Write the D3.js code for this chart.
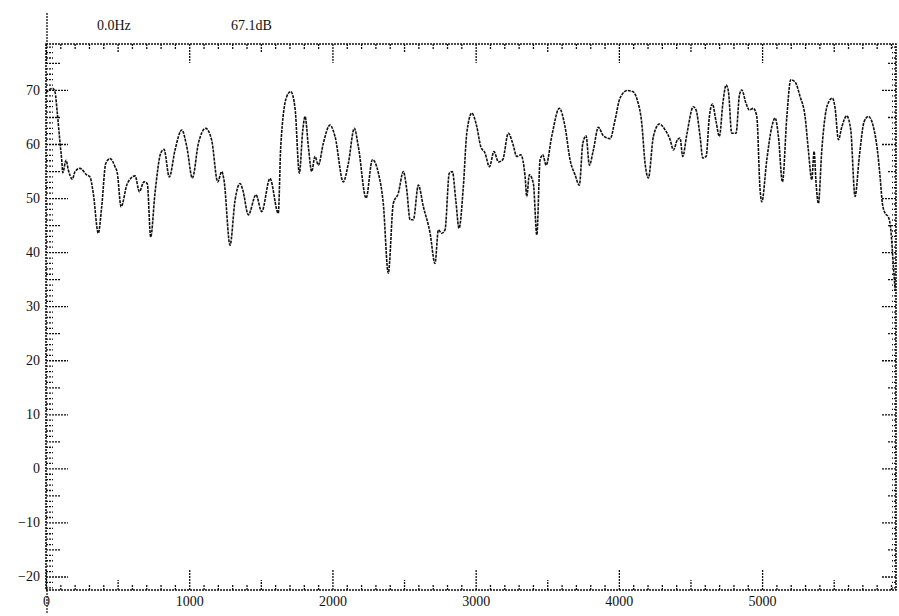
<!DOCTYPE html>
<html>
<head>
<meta charset="utf-8">
<script src="https://cdn.jsdelivr.net/npm/d3@7"></script>
<style>
  html, body { margin: 0; padding: 0; background: #fff; }
  svg { display: block; }
  .axis text { font-family: "Liberation Serif", "DejaVu Serif", serif; font-size: 14px; fill: #111; }
  .axis line { stroke: #111; stroke-width: 1.3; stroke-dasharray: 2 1; }
  .axis path { display: none; }
</style>
</head>
<body>
<div id="chart"></div>
<script>
// spectrum trace (Hz, dB)
const freqs = [0, 47, 63, 79, 98, 110, 117, 140, 156, 184, 203, 237, 284, 307, 330, 365, 389, 417, 447, 482,
  498, 524, 568, 622, 652, 684, 707, 731, 761, 801, 824, 861, 901, 948, 983, 1022, 1064, 1115, 1157, 1199,
  1227, 1243, 1285, 1320, 1355, 1374, 1413, 1466, 1506, 1564, 1622, 1639, 1681, 1709, 1739, 1769, 1793, 1809, 1832, 1855,
  1878, 1902, 1936, 1983, 2018, 2076, 2111, 2153, 2181, 2235, 2279, 2321, 2355, 2390, 2425, 2460, 2495, 2519, 2542, 2565,
  2600, 2635, 2682, 2716, 2740, 2763, 2786, 2816, 2837, 2861, 2884, 2914, 2938, 2973, 3008, 3036, 3066, 3096, 3128, 3159,
  3189, 3228, 3259, 3287, 3315, 3345, 3357, 3375, 3403, 3427, 3450, 3469, 3492, 3531, 3584, 3624, 3659, 3694, 3724, 3748,
  3771, 3794, 3822, 3857, 3892, 3939, 3973, 4008, 4059, 4097, 4129, 4160, 4183, 4206, 4241, 4283, 4323, 4358, 4381, 4409,
  4427, 4446, 4474, 4520, 4539, 4567, 4586, 4609, 4632, 4653, 4679, 4702, 4726, 4749, 4765, 4788, 4818, 4842, 4858, 4888,
  4911, 4939, 4963, 4986, 4998, 5033, 5068, 5091, 5114, 5142, 5173, 5200, 5230, 5265, 5300, 5323, 5347, 5363, 5377, 5393,
  5417, 5440, 5456, 5491, 5510, 5533, 5557, 5591, 5619, 5649, 5679, 5712, 5742, 5777, 5805, 5824, 5840, 5859, 5882, 5899,
  5917, 5929];
const levels = [69.5, 70.3, 69.6, 65.7, 60.2, 57.0, 54.7, 57.0, 55.2, 53.5, 54.9, 55.5, 54.3, 53.9, 50.9, 43.5, 48.4, 56.4, 57.3, 55.8,
  54.6, 48.4, 52.7, 54.1, 51.2, 53.0, 52.7, 42.8, 50.9, 58.3, 59.0, 53.9, 58.9, 62.6, 59.5, 53.7, 60.1, 62.9, 60.7, 53.0,
  54.9, 53.3, 41.3, 49.6, 52.7, 51.5, 46.9, 50.6, 47.5, 53.6, 47.2, 59.5, 68.8, 69.7, 66.6, 54.6, 62.6, 65.1, 59.5, 54.9,
  57.7, 56.1, 60.1, 63.5, 61.4, 53.0, 56.4, 62.9, 59.5, 50.0, 57.1, 54.6, 49.0, 36.1, 49.0, 50.9, 54.9, 51.5, 46.0, 46.0,
  52.4, 48.4, 43.5, 37.9, 44.1, 43.5, 44.1, 54.6, 54.9, 49.7, 44.4, 52.1, 62.0, 65.7, 63.2, 59.5, 58.3, 55.8, 58.6, 56.7,
  57.1, 62.0, 60.1, 57.7, 58.0, 54.0, 50.3, 54.3, 52.7, 43.2, 57.1, 58.0, 56.1, 61.4, 66.6, 63.2, 57.1, 54.3, 52.4, 60.1,
  61.5, 56.1, 58.9, 63.1, 61.5, 61.0, 64.4, 68.5, 69.9, 69.7, 68.1, 63.8, 56.4, 53.7, 61.4, 63.7, 62.6, 60.8, 58.9, 60.8,
  61.1, 57.7, 61.7, 66.9, 66.3, 61.4, 57.4, 57.7, 65.1, 67.4, 64.1, 61.4, 67.5, 70.9, 69.7, 62.0, 62.0, 69.1, 70.0, 67.5,
  66.3, 66.6, 65.1, 51.5, 49.3, 57.1, 63.2, 64.8, 61.4, 53.0, 65.1, 71.9, 71.5, 68.8, 65.1, 58.9, 53.4, 58.6, 52.7, 49.0,
  58.9, 65.1, 67.2, 68.5, 66.6, 60.8, 63.2, 65.2, 62.6, 50.3, 57.7, 64.1, 65.1, 63.2, 58.9, 53.9, 49.0, 47.2, 46.5, 44.1,
  37.3, 33.0];

const xMajorTicks = [0, 1000, 2000, 3000, 4000, 5000];
const yMajorTicks = [-20, -10, 0, 10, 20, 30, 40, 50, 60, 70];
const cursorFreq = 0.0;
const cursorLevel = 67.1;

const width = 899, height = 616;
const margin = { top: 44, right: 3, bottom: 26, left: 46 };
const innerW = width - margin.left - margin.right;
const innerH = height - margin.top - margin.bottom;

const svg = d3.select("#chart").append("svg").attr("width", width).attr("height", height);

const x = d3.scaleLinear().domain([0, 5935]).range([margin.left, margin.left + innerW]);
const y = d3.scaleLinear().domain([-22.5, 78.5]).range([margin.top + innerH, margin.top]);

const xMinor = d3.range(0, 5901, 100).filter((d) => d % 500 !== 0);
const xMid = d3.range(500, 5901, 1000);
const yMinor = d3.range(-22, 79, 1).filter((d) => d % 5 !== 0);
const yMid = d3.range(-15, 79, 10);

const bottom = margin.top + innerH, right = margin.left + innerW;

function addAxis(axisFn, scale, values, size, transform, labels) {
  const ax = axisFn(scale).tickValues(values).tickSize(-size).tickPadding(6)
    .tickFormat(labels ? d3.format("d") : () => "");
  svg.append("g").attr("class", "axis").attr("transform", transform).call(ax);
}

// left axis, ticks pointing inward
addAxis(d3.axisLeft, y, yMinor, 7, `translate(${margin.left},0)`);
addAxis(d3.axisLeft, y, yMid, 14, `translate(${margin.left},0)`);
addAxis(d3.axisLeft, y, yMajorTicks, 22, `translate(${margin.left},0)`, true);
// right axis
addAxis(d3.axisRight, y, yMinor, 4, `translate(${right},0)`);
addAxis(d3.axisRight, y, yMid, 8, `translate(${right},0)`);
addAxis(d3.axisRight, y, yMajorTicks, 15, `translate(${right},0)`);
// bottom axis
addAxis(d3.axisBottom, x, xMinor, 6, `translate(0,${bottom})`);
addAxis(d3.axisBottom, x, xMid, 10, `translate(0,${bottom})`);
addAxis(d3.axisBottom, x, xMajorTicks, 20, `translate(0,${bottom})`, true);
// top axis
addAxis(d3.axisTop, x, xMinor, 5, `translate(0,${margin.top})`);
addAxis(d3.axisTop, x, xMid, 9, `translate(0,${margin.top})`);
addAxis(d3.axisTop, x, xMajorTicks, 19, `translate(0,${margin.top})`);

// dotted frame
svg.append("rect")
  .attr("x", margin.left).attr("y", margin.top)
  .attr("width", innerW).attr("height", innerH)
  .attr("fill", "none").attr("stroke", "#111").attr("stroke-width", 1.6)
  .attr("stroke-dasharray", "2 1");

// cursor marker at 0 Hz
svg.append("line")
  .attr("x1", x(cursorFreq) + 1).attr("x2", x(cursorFreq) + 1)
  .attr("y1", 13).attr("y2", margin.top)
  .attr("stroke", "#111").attr("stroke-width", 1.3).attr("stroke-dasharray", "2 1");
svg.append("line")
  .attr("x1", x(cursorFreq) + 1).attr("x2", x(cursorFreq) + 1)
  .attr("y1", bottom).attr("y2", 613)
  .attr("stroke", "#111").attr("stroke-width", 1.2).attr("stroke-dasharray", "2 1");

svg.append("text")
  .attr("x", 97).attr("y", 30)
  .attr("font-family", "Liberation Serif, serif").attr("font-size", 14).attr("fill", "#111")
  .text(`${cursorFreq.toFixed(1)}Hz`);
svg.append("text")
  .attr("x", 231).attr("y", 30)
  .attr("font-family", "Liberation Serif, serif").attr("font-size", 14).attr("fill", "#111")
  .text(`${cursorLevel.toFixed(1)}dB`);

const data = freqs.map((f, i) => ({ f, db: levels[i] }));
const line = d3.line()
  .x((d) => x(d.f))
  .y((d) => y(d.db))
  .curve(d3.curveMonotoneX);

svg.append("path")
  .datum(data)
  .attr("d", line)
  .attr("fill", "none")
  .attr("stroke", "#111")
  .attr("stroke-width", 1.6)
  .attr("stroke-dasharray", "3 1");
</script>
</body>
</html>
